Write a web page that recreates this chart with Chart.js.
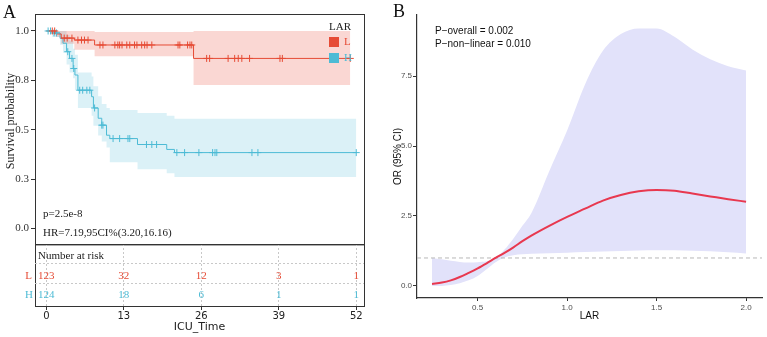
<!DOCTYPE html>
<html>
<head>
<meta charset="utf-8">
<script src="https://cdn.jsdelivr.net/npm/chart.js@4.4.1/dist/chart.umd.min.js"></script>
<style>
  html, body { margin: 0; padding: 0; background: #fff; }
  body { position: relative; width: 767px; height: 337px; overflow: hidden; }
  canvas { position: absolute; }
  #km { left: 0; top: 0; width: 380px; height: 253px; }
  #risk { left: 0; top: 244px; width: 380px; height: 93px; }
  #rcs { left: 380px; top: 0; width: 387px; height: 337px; }
</style>
</head>
<body>
<canvas id="km" width="380" height="253"></canvas>
<canvas id="risk" width="380" height="93"></canvas>
<canvas id="rcs" width="387" height="337"></canvas>
<script>
const RED = '#E64B35';
const BLUE = '#4DBBD5';
const SERIF = '"Liberation Serif", "Times New Roman", serif';
const SANS = '"Liberation Sans", Arial, sans-serif';

// ---- panel A: Kaplan-Meier, group L (low LAR)
const lowTime  = [0, 1.6, 2.5, 4.7, 8.1, 24.7, 51.0];
const lowSurv  = [1, 0.985, 0.964, 0.954, 0.929, 0.861, 0.861];
const lowUpper = [1, 1, 1, 1, 0.995, 1, 1];
const lowLower = [1, 0.97, 0.935, 0.905, 0.872, 0.726, 0.726];
const lowCensor = [1.0, 1.4, 3.0, 3.5, 4.3, 5.3, 5.9, 6.4, 7.0, 9.0, 9.5, 11.5, 12.0, 12.3, 12.7,
  13.5, 14.0, 14.8, 15.2, 16.0, 16.5, 16.9, 17.7, 22.1, 22.4, 23.7, 24.1, 24.4,
  26.9, 27.4, 30.5, 31.6, 32.2, 32.8, 34.1, 39.2, 39.6, 51.0];

// ---- group H (high LAR)
const highTime  = [0, 1.0, 2.3, 2.8, 3.4, 3.9, 4.5, 4.8, 5.3, 7.6, 7.9, 8.7, 9.3, 10.1, 10.65, 15.3, 20.2, 21.5, 52.0];
const highSurv  = [1, 0.99, 0.963, 0.938, 0.895, 0.861, 0.81, 0.777, 0.70, 0.667, 0.61, 0.558, 0.523, 0.472, 0.455, 0.425, 0.40, 0.384, 0.384];
const highUpper = [1, 1, 1, 1, 0.98, 0.95, 0.91, 0.88, 0.79, 0.77, 0.72, 0.67, 0.63, 0.61, 0.60, 0.585, 0.57, 0.556, 0.556];
const highLower = [1, 0.97, 0.93, 0.89, 0.83, 0.79, 0.76, 0.70, 0.61, 0.57, 0.52, 0.47, 0.44, 0.41, 0.335, 0.30, 0.28, 0.26, 0.26];
const highCensor = [0.3, 0.7, 1.3, 1.7, 3.6, 4.3, 4.6, 5.6, 6.1, 6.8, 7.3, 8.1, 9.3, 9.5,
  11.2, 12.3, 13.7, 14.0, 16.8, 17.7, 18.5, 21.9, 23.2, 25.6, 27.9, 28.3, 28.6, 34.5, 35.5, 52.0];

const kmYTicks = [0, 0.25, 0.5, 0.75, 1];
const kmYLabels = ['0.0', '0.3', '0.5', '0.8', '1.0'];
const timeTicks = [0, 13, 26, 39, 52];
const riskLow = [123, 32, 12, 3, 1];
const riskHigh = [124, 18, 6, 1, 1];
const timeMin = -1.9, timeMax = 53.3;

// ---- panel B: restricted cubic spline
const lar     = [0.245, 0.3, 0.35, 0.4, 0.45, 0.5, 0.55, 0.6, 0.65, 0.7, 0.75, 0.8, 0.9, 1.0, 1.1, 1.2, 1.3, 1.4, 1.5, 1.6, 1.7, 1.8, 1.9, 2.0];
const orEst   = [0.07, 0.12, 0.2, 0.32, 0.47, 0.63, 0.81, 1.0, 1.18, 1.38, 1.6, 1.8, 2.15, 2.47, 2.76, 3.05, 3.25, 3.38, 3.43, 3.40, 3.30, 3.2, 3.1, 3.01];
const orUpper = [1.0, 0.95, 0.9, 0.86, 0.84, 0.85, 0.88, 1.0, 1.3, 1.7, 2.15, 2.6, 4.1, 5.55, 7.2, 8.4, 9.0, 9.2, 9.2, 8.9, 8.45, 8.1, 7.85, 7.7];
const orLower = [0.0, 0.0, 0.03, 0.1, 0.2, 0.36, 0.6, 0.85, 1.02, 1.1, 1.13, 1.15, 1.17, 1.19, 1.21, 1.23, 1.25, 1.27, 1.28, 1.28, 1.26, 1.24, 1.2, 1.16];
const orTicks = [0, 2.5, 5, 7.5];
const larTicks = [0.5, 1.0, 1.5, 2.0];
const refOR = 1;
const larMin = 0.161, larMax = 2.089;

const pts = (xs, ys) => xs.map((x, i) => ({x: x, y: ys[i]}));
const stepAt = (times, vals, t) => {
    let v = vals[0];
    times.forEach((tt, i) => { if (tt <= t) v = vals[i]; });
    return v;
};
const censorPts = (cs, times, vals) => cs.map(t => ({x: t, y: stepAt(times, vals, t)}));

const stepLine = (data, color) => ({
    data: data, borderColor: color, borderWidth: 1, pointRadius: 0, stepped: true, fill: false, order: 1
});
const band = (data, color, fill) => ({
    data: data, borderWidth: 0, borderColor: 'rgba(0,0,0,0)', backgroundColor: color,
    pointRadius: 0, stepped: true, fill: fill, order: 5
});
const censor = (data, color) => ({
    data: data, showLine: false, pointStyle: 'cross', pointRadius: 3.5, borderColor: color,
    borderWidth: 1, order: 0
});

const kmDecor = {
    id: 'kmDecor',
    afterDraw(chart) {
        const {ctx, chartArea: a} = chart;
        ctx.save();
        ctx.strokeStyle = '#333';
        ctx.lineWidth = 1;
        ctx.strokeRect(a.left + 0.5, a.top + 0.5, a.right - a.left, a.bottom - a.top);

        ctx.fillStyle = '#111';
        ctx.font = '18px ' + SERIF;
        ctx.textBaseline = 'alphabetic';
        ctx.fillText('A', 3, 18);

        ctx.font = '11px ' + SERIF;
        ctx.textBaseline = 'middle';
        ctx.fillStyle = '#222';
        ctx.fillText('p=2.5e-8', 43, 214);
        ctx.fillText('HR=7.19,95CI%(3.20,16.16)', 43, 233);

        ctx.save();
        ctx.translate(11, 121);
        ctx.rotate(-Math.PI / 2);
        ctx.textAlign = 'center';
        ctx.font = '12px ' + SERIF;
        ctx.fillText('Survival probability', 0, 0);
        ctx.restore();

        // legend
        ctx.textAlign = 'center';
        ctx.fillStyle = '#222';
        ctx.fillText('LAR', 340, 27);
        ctx.textAlign = 'left';
        ctx.fillStyle = RED;
        ctx.fillRect(329, 37, 10, 10);
        ctx.fillText('L', 344, 42);
        ctx.fillStyle = BLUE;
        ctx.fillRect(329, 53, 10, 10);
        ctx.fillText('H', 344, 58);
        ctx.restore();
    }
};

new Chart(document.getElementById('km'), {
    type: 'line',
    data: {
        datasets: [
            stepLine(pts(lowTime, lowSurv), RED),
            stepLine(pts(highTime, highSurv), BLUE),
            censor(censorPts(lowCensor, lowTime, lowSurv), RED),
            censor(censorPts(highCensor, highTime, highSurv), BLUE),
            band(pts(lowTime, lowUpper), 'rgba(230,75,53,0.22)', '+1'),
            band(pts(lowTime, lowLower), 'rgba(0,0,0,0)', false),
            band(pts(highTime, highUpper), 'rgba(77,187,213,0.2)', '+1'),
            band(pts(highTime, highLower), 'rgba(0,0,0,0)', false)
        ]
    },
    options: {
        responsive: false,
        animation: false,
        layout: {padding: {top: 14, right: 16, bottom: 0, left: 0}},
        plugins: {legend: {display: false}, tooltip: {enabled: false}},
        scales: {
            x: {type: 'linear', min: timeMin, max: timeMax, display: false},
            y: {
                type: 'linear', min: -0.081, max: 1.086,
                afterBuildTicks: s => { s.ticks = kmYTicks.map(v => ({value: v})); },
                afterFit: s => { s.width = 35; },
                ticks: {
                    callback: (v, i) => kmYLabels[i],
                    color: '#333', font: {family: SERIF, size: 11}, padding: 2
                },
                grid: {drawOnChartArea: false, tickLength: 4, tickColor: '#333'},
                border: {display: false}
            }
        }
    },
    plugins: [kmDecor]
});

// risk table rows (value positions on the table's 0..3 scale)
const rowTitle = 2.42, rowL = 1.45, rowH = 0.53;
const riskDecor = {
    id: 'riskDecor',
    afterDraw(chart) {
        const {ctx, chartArea: a, scales: {x, y}} = chart;
        ctx.save();
        ctx.strokeStyle = '#c8c8c8';
        ctx.lineWidth = 1;
        ctx.setLineDash([2, 2]);
        [2.08, 1.11].forEach(v => {
            const py = Math.round(y.getPixelForValue(v)) + 0.5;
            ctx.beginPath();
            ctx.moveTo(a.left, py);
            ctx.lineTo(a.right, py);
            ctx.stroke();
        });
        ctx.setLineDash([]);
        ctx.strokeStyle = '#333';
        ctx.beginPath();
        ctx.moveTo(a.left, a.top + 0.5);
        ctx.lineTo(a.right + 0.5, a.top + 0.5);
        ctx.moveTo(a.right + 0.5, a.top);
        ctx.lineTo(a.right + 0.5, a.bottom);
        ctx.stroke();

        ctx.font = '11px ' + SERIF;
        ctx.textBaseline = 'middle';
        ctx.fillStyle = '#222';
        ctx.textAlign = 'left';
        ctx.fillText('Number at risk', a.left + 3, y.getPixelForValue(rowTitle));
        ctx.textAlign = 'right';
        ctx.fillStyle = RED;
        ctx.fillText('L', a.left - 3, y.getPixelForValue(rowL));
        ctx.fillStyle = BLUE;
        ctx.fillText('H', a.left - 2, y.getPixelForValue(rowH));
        ctx.textAlign = 'center';
        timeTicks.forEach((t, i) => {
            const px = x.getPixelForValue(t);
            ctx.fillStyle = RED;
            ctx.fillText(String(riskLow[i]), px, y.getPixelForValue(rowL));
            ctx.fillStyle = BLUE;
            ctx.fillText(String(riskHigh[i]), px, y.getPixelForValue(rowH));
        });
        ctx.restore();
    }
};

new Chart(document.getElementById('risk'), {
    type: 'line',
    data: {datasets: []},
    options: {
        responsive: false,
        animation: false,
        layout: {padding: {top: 0, right: 16, bottom: 0, left: 0}},
        plugins: {legend: {display: false}, tooltip: {enabled: false}},
        scales: {
            x: {
                type: 'linear', min: timeMin, max: timeMax, position: 'bottom',
                afterBuildTicks: s => { s.ticks = timeTicks.map(v => ({value: v})); },
                afterFit: s => { s.height = 31; },
                ticks: {color: '#222', font: {family: '"DejaVu Sans"', size: 10}, padding: 0, maxRotation: 0},
                grid: {color: '#c8c8c8', tickColor: '#333', tickLength: 4},
                border: {display: true, color: '#333', width: 1, dash: [2, 2]},
                title: {
                    display: true, text: 'ICU_Time', color: '#222',
                    font: {family: '"DejaVu Sans"', size: 11}, padding: {top: 0, bottom: 3}
                }
            },
            y: {
                type: 'linear', min: 0, max: 3,
                afterFit: s => { s.width = 35; },
                ticks: {display: false},
                grid: {display: false, drawTicks: false},
                border: {display: true, color: '#333', width: 1}
            }
        }
    },
    plugins: [riskDecor]
});

const rcsDecor = {
    id: 'rcsDecor',
    afterDraw(chart) {
        const {ctx} = chart;
        ctx.save();
        ctx.fillStyle = '#111';
        ctx.font = '18px ' + SERIF;
        ctx.fillText('B', 13, 17);
        ctx.font = '10px ' + SANS;
        ctx.textBaseline = 'middle';
        ctx.fillText('P\u2212overall = 0.002', 55, 31);
        ctx.fillText('P\u2212non\u2212linear = 0.010', 55, 44);
        ctx.restore();
    }
};

new Chart(document.getElementById('rcs'), {
    type: 'line',
    data: {
        datasets: [
            {data: pts(lar, orEst), borderColor: '#E8384F', borderWidth: 2, pointRadius: 0,
             cubicInterpolationMode: 'monotone', fill: false, order: 0},
            {data: [{x: larMin, y: refOR}, {x: larMax, y: refOR}], borderColor: '#B0B0B0',
             borderWidth: 0.9, borderDash: [4, 3], pointRadius: 0, fill: false, order: 1},
            {data: pts(lar, orUpper), borderWidth: 0, borderColor: 'rgba(0,0,0,0)', backgroundColor: '#E2E2FA',
             pointRadius: 0, cubicInterpolationMode: 'monotone', fill: '+1', order: 2},
            {data: pts(lar, orLower), borderWidth: 0, borderColor: 'rgba(0,0,0,0)',
             pointRadius: 0, cubicInterpolationMode: 'monotone', fill: false, order: 3}
        ]
    },
    options: {
        responsive: false,
        animation: false,
        layout: {padding: {top: 15, right: 5, bottom: 0, left: 0}},
        plugins: {legend: {display: false}, tooltip: {enabled: false}},
        scales: {
            x: {
                type: 'linear', min: larMin, max: larMax,
                afterBuildTicks: s => { s.ticks = larTicks.map(v => ({value: v})); },
                afterFit: s => { s.height = 39; },
                ticks: {callback: v => v.toFixed(1), color: '#4D4D4D', font: {family: SANS, size: 8}, padding: 2, maxRotation: 0},
                grid: {drawOnChartArea: false, tickLength: 3, tickColor: '#333'},
                border: {display: true, color: '#333', width: 1.2},
                title: {display: true, text: 'LAR', color: '#111', font: {family: SANS, size: 10}, padding: {top: 0, bottom: 15}}
            },
            y: {
                type: 'linear', min: -0.43, max: 9.68,
                afterBuildTicks: s => { s.ticks = orTicks.map(v => ({value: v})); },
                afterFit: s => { s.width = 37; },
                ticks: {callback: v => v.toFixed(1), color: '#4D4D4D', font: {family: SANS, size: 8}, padding: 1},
                grid: {drawOnChartArea: false, tickLength: 4, tickColor: '#333'},
                border: {display: true, color: '#333', width: 1.2},
                title: {display: true, text: 'OR (95% CI)', color: '#111', font: {family: SANS, size: 10}, padding: {top: 12, bottom: 0}}
            }
        }
    },
    plugins: [rcsDecor]
});
</script>
</body>
</html>
